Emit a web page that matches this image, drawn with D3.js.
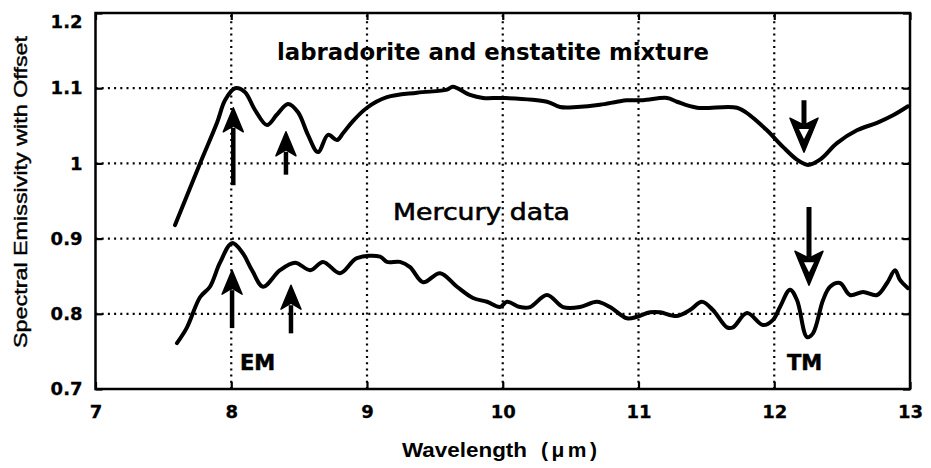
<!DOCTYPE html>
<html>
<head>
<meta charset="utf-8">
<script src="https://cdn.jsdelivr.net/npm/d3@7"></script>
<style>
  body { margin: 0; background: #fff; }
  svg { display: block; }
</style>
</head>
<body>
<svg id="chart" width="931" height="468"></svg>
<script>
// Axis ticks
const xTicks = [7, 8, 9, 10, 11, 12, 13];
const yTicks = [0.7, 0.8, 0.9, 1.0, 1.1, 1.2];
const yTickLabels = ["0.7", "0.8", "0.9", "1", "1.1", "1.2"];

// Labradorite + enstatite laboratory mixture (offset spectrum)
const labWl = [7.586, 7.770, 7.895, 7.954, 8.028, 8.100, 8.175, 8.263, 8.337, 8.418, 8.492, 8.565,
  8.639, 8.713, 8.779, 8.823, 8.890, 9.000, 9.147, 9.368, 9.589, 9.633, 9.759, 9.855, 10.002,
  10.326, 10.422, 10.547, 10.716, 10.842, 10.915, 11.033, 11.210, 11.283, 11.431, 11.725, 11.821,
  11.946, 12.064, 12.167, 12.248, 12.337, 12.462, 12.609, 12.757, 12.875, 12.985];
const labVal = [0.918, 1.000, 1.054, 1.084, 1.100, 1.095, 1.071, 1.051, 1.065, 1.079, 1.068, 1.038,
  1.015, 1.038, 1.031, 1.040, 1.055, 1.074, 1.088, 1.094, 1.098, 1.102, 1.091, 1.087, 1.087,
  1.082, 1.075, 1.075, 1.078, 1.082, 1.084, 1.084, 1.087, 1.082, 1.074, 1.074, 1.064,
  1.044, 1.022, 1.005, 0.998, 1.005, 1.027, 1.044, 1.054, 1.064, 1.076];

// Mercury emissivity spectrum
const merWl = [7.600, 7.674, 7.770, 7.843, 7.917, 8.006, 8.080, 8.153, 8.234, 8.359, 8.470, 8.582,
  8.676, 8.801, 8.926, 9.096, 9.147, 9.243, 9.317, 9.413, 9.538, 9.663, 9.781, 9.884, 9.980,
  10.031, 10.127, 10.201, 10.326, 10.444, 10.569, 10.694, 10.790, 10.915, 10.989, 11.085, 11.158,
  11.283, 11.379, 11.467, 11.548, 11.652, 11.696, 11.799, 11.917, 11.991, 12.042, 12.116, 12.168,
  12.241, 12.285, 12.359, 12.411, 12.484, 12.558, 12.654, 12.757, 12.831, 12.890, 12.926, 12.985];
const merVal = [0.761, 0.782, 0.822, 0.836, 0.868, 0.894, 0.882, 0.858, 0.836, 0.858, 0.868, 0.858,
  0.869, 0.854, 0.874, 0.876, 0.869, 0.869, 0.862, 0.842, 0.854, 0.836, 0.821, 0.816, 0.809,
  0.816, 0.809, 0.809, 0.825, 0.809, 0.809, 0.816, 0.809, 0.794, 0.796, 0.802, 0.802,
  0.797, 0.805, 0.816, 0.805, 0.782, 0.782, 0.801, 0.785, 0.792, 0.809, 0.832, 0.818,
  0.769, 0.774, 0.818, 0.836, 0.841, 0.825, 0.829, 0.825, 0.841, 0.858, 0.845, 0.834];

// Christiansen-feature (EM) and transparency-minimum (TM) markers: wavelength, tail, tip
const emWl   = [8.015, 8.403, 8.006, 8.440];
const emTail = [0.971, 0.985, 0.781, 0.774];
const emTip  = [1.074, 1.042, 0.858, 0.838];
const tmWl   = [12.219, 12.256];
const tmTail = [1.084, 0.942];
const tmTip  = [1.015, 0.838];

const svg = d3.select("#chart");
const plotL = 95.5, plotR = 910, plotT = 13, plotB = 389;

const x = d3.scaleLinear().domain([7, 13]).range([plotL, plotR]);
const y = d3.scaleLinear().domain([0.7, 1.2]).range([plotB, plotT]);

const boldFont = "'DejaVu Sans', sans-serif";
const arialFont = "'Liberation Sans', Arial, sans-serif";

// dotted grid
const grid = svg.append("g").attr("stroke", "#000").attr("stroke-width", 2.2)
  .attr("stroke-dasharray", "2,4.2").attr("fill", "none");
grid.selectAll("line.h").data(yTicks.filter(v => v > 0.75 && v < 1.15)).join("line")
  .attr("class", "h")
  .attr("x1", plotL).attr("x2", plotR).attr("y1", d => y(d)).attr("y2", d => y(d));
grid.selectAll("line.v").data(xTicks.filter(v => v > 7.5 && v < 12.5)).join("line")
  .attr("class", "v")
  .attr("y1", plotB).attr("y2", plotT).attr("x1", d => x(d)).attr("x2", d => x(d));

// axes with inward ticks on all four sides
const styleAxis = g => {
  g.select(".domain").remove();
  g.selectAll(".tick line").attr("stroke", "#000").attr("stroke-width", 2.2);
  g.selectAll(".tick text").attr("fill", "#000").attr("font-family", boldFont)
    .attr("font-weight", "bold").attr("font-size", 18)
    .attr("stroke", "#000").attr("stroke-width", 0.3);
};
svg.append("g").attr("transform", `translate(0,${plotB})`)
  .call(d3.axisBottom(x).tickValues(xTicks).tickFormat(d3.format("d")).tickSize(-7).tickPadding(16))
  .call(styleAxis);
svg.append("g").attr("transform", `translate(0,${plotT})`)
  .call(d3.axisTop(x).tickValues(xTicks).tickFormat("").tickSize(-7))
  .call(styleAxis);
const yAxisG = svg.append("g").attr("transform", `translate(${plotL},0)`)
  .call(d3.axisLeft(y).tickValues(yTicks).tickFormat((d, i) => yTickLabels[i]).tickSize(-7).tickPadding(13))
  .call(styleAxis);
// keep the top label inside the frame
yAxisG.selectAll(".tick text").filter(d => d === 1.2).attr("dy", "0.8em");
svg.append("g").attr("transform", `translate(${plotR},0)`)
  .call(d3.axisRight(y).tickValues(yTicks).tickFormat("").tickSize(-7))
  .call(styleAxis);

// frame
svg.append("rect").attr("x", plotL).attr("y", plotT).attr("width", plotR - plotL).attr("height", plotB - plotT)
  .attr("fill", "none").attr("stroke", "#000").attr("stroke-width", 2.5);

// spectra
const line = d3.line().x(d => x(d[0])).y(d => y(d[1])).curve(d3.curveCatmullRom.alpha(0.5));
const drawSpectrum = (wl, val) => svg.append("path")
  .datum(wl.map((w, i) => [w, val[i]]))
  .attr("d", line).attr("fill", "none").attr("stroke", "#000")
  .attr("stroke-width", 4).attr("stroke-linejoin", "round").attr("stroke-linecap", "round");
drawSpectrum(labWl, labVal);
drawSpectrum(merWl, merVal);

// EM arrows: pointing up, filled barbed head
emWl.forEach((w, i) => {
  const cx = x(w), yTail = y(emTail[i]), yTip = y(emTip[i]);
  const hl = 24, hw = 10;
  svg.append("line").attr("x1", cx).attr("x2", cx).attr("y1", yTail).attr("y2", yTip + hl - 4)
    .attr("stroke", "#000").attr("stroke-width", 4.5);
  svg.append("path")
    .attr("d", `M${cx},${yTip} L${cx + hw},${yTip + hl} L${cx},${yTip + hl - 6} L${cx - hw},${yTip + hl} Z`)
    .attr("fill", "#000").attr("stroke", "#000").attr("stroke-width", 1.5).attr("stroke-linejoin", "round");
});

// TM arrows: pointing down, open head
tmWl.forEach((w, i) => {
  const cx = x(w), yTail = y(tmTail[i]), yTip = y(tmTip[i]);
  const hl = 34, hw = 14;
  svg.append("line").attr("x1", cx).attr("x2", cx).attr("y1", yTail).attr("y2", yTip - hl + 6)
    .attr("stroke", "#000").attr("stroke-width", 5);
  svg.append("path")
    .attr("d", `M${cx},${yTip} L${cx - hw},${yTip - hl} L${cx},${yTip - hl + 7} L${cx + hw},${yTip - hl} Z`)
    .attr("fill", "#000").attr("stroke", "#000").attr("stroke-width", 1.5).attr("stroke-linejoin", "round");
  svg.append("path")
    .attr("d", `M${cx},${yTip - 13} L${cx - 5},${yTip - 23} L${cx + 5},${yTip - 23} Z`)
    .attr("fill", "#fff");
});

// labels inside the plot
svg.append("text").attr("x", 277).attr("y", 60)
  .attr("font-family", boldFont).attr("font-weight", "bold").attr("font-size", 23)
  .attr("textLength", 432).attr("lengthAdjust", "spacingAndGlyphs")
  .text("labradorite and enstatite mixture");
svg.append("text").attr("x", 393).attr("y", 220)
  .attr("font-family", boldFont).attr("font-size", 23)
  .attr("stroke", "#000").attr("stroke-width", 0.6)
  .attr("textLength", 177).attr("lengthAdjust", "spacingAndGlyphs")
  .text("Mercury data");
svg.append("text").attr("x", 240).attr("y", 370)
  .attr("font-family", boldFont).attr("font-weight", "bold").attr("font-size", 21)
  .attr("stroke", "#000").attr("stroke-width", 0.5)
  .text("EM");
svg.append("text").attr("x", 787).attr("y", 370)
  .attr("font-family", boldFont).attr("font-weight", "bold").attr("font-size", 21)
  .attr("stroke", "#000").attr("stroke-width", 0.5)
  .text("TM");

// axis titles
const xTitle = svg.append("text").attr("x", 402).attr("y", 457)
  .attr("font-family", arialFont).attr("font-weight", "bold").attr("font-size", 21);
xTitle.append("tspan").attr("textLength", 125).attr("lengthAdjust", "spacingAndGlyphs").text("Wavelength");
xTitle.append("tspan").attr("dx", 14).attr("letter-spacing", 3.5).text("(μm)");

svg.append("text").attr("transform", "translate(27,192) rotate(-90)")
  .attr("text-anchor", "middle")
  .attr("font-family", arialFont).attr("font-size", 18)
  .attr("stroke", "#000").attr("stroke-width", 0.4)
  .attr("textLength", 312).attr("lengthAdjust", "spacingAndGlyphs")
  .text("Spectral Emissivity with Offset");
</script>
</body>
</html>
